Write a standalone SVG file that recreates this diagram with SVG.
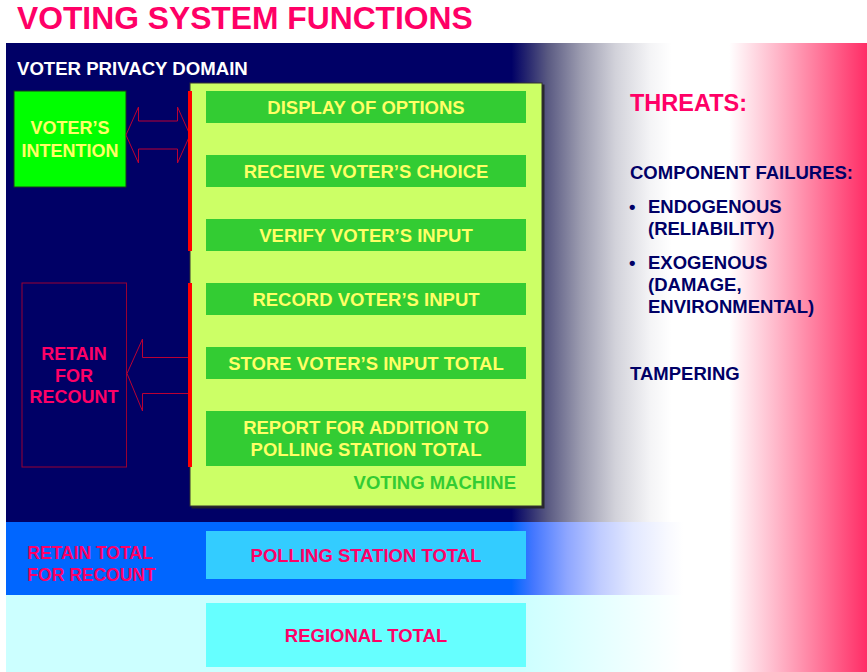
<svg xmlns="http://www.w3.org/2000/svg" width="867" height="672" viewBox="0 0 867 672">
  <defs>
    <!-- right-hand threat zone: white fading into red -->
    <linearGradient id="gradThreat" gradientUnits="userSpaceOnUse" x1="6" y1="0" x2="867" y2="0">
      <stop offset="0.84" stop-color="#ffffff"/>
      <stop offset="0.93" stop-color="#ff8aa8"/>
      <stop offset="1" stop-color="#ff2d66"/>
    </linearGradient>
    <!-- privacy domain band: navy through grey to white -->
    <linearGradient id="gradNavy" gradientUnits="userSpaceOnUse" x1="0" y1="0" x2="867" y2="0">
      <stop offset="0.590" stop-color="#000066" stop-opacity="1"/>
      <stop offset="0.610" stop-color="#2a2a70" stop-opacity="1"/>
      <stop offset="0.632" stop-color="#5a5a82" stop-opacity="1"/>
      <stop offset="0.670" stop-color="#9c9cb0" stop-opacity="1"/>
      <stop offset="0.710" stop-color="#d2d2da" stop-opacity="1"/>
      <stop offset="0.750" stop-color="#f4f4f6" stop-opacity="1"/>
      <stop offset="0.775" stop-color="#ffffff" stop-opacity="1"/>
      <stop offset="0.800" stop-color="#ffffff" stop-opacity="0"/>
    </linearGradient>
    <!-- polling station band: blue fading out -->
    <linearGradient id="gradBlue" gradientUnits="userSpaceOnUse" x1="0" y1="0" x2="867" y2="0">
      <stop offset="0.590" stop-color="#0066ff"/>
      <stop offset="0.615" stop-color="#4477ff"/>
      <stop offset="0.654" stop-color="#8ea6ff"/>
      <stop offset="0.692" stop-color="#c0ccff"/>
      <stop offset="0.730" stop-color="#e2e8ff"/>
      <stop offset="0.770" stop-color="#f8f9ff"/>
      <stop offset="0.788" stop-color="#ffffff"/>
    </linearGradient>
    <!-- regional band: pale cyan fading out -->
    <linearGradient id="gradCyan" gradientUnits="userSpaceOnUse" x1="0" y1="0" x2="867" y2="0">
      <stop offset="0.600" stop-color="#ccffff" stop-opacity="1"/>
      <stop offset="0.788" stop-color="#ccffff" stop-opacity="0"/>
    </linearGradient>
    <filter id="shadow" x="-5%" y="-5%" width="110%" height="110%">
      <feDropShadow dx="2" dy="2" stdDeviation="0.3" flood-color="#222222" flood-opacity="0.9"/>
    </filter>
  </defs>
  <style>
    text { font-family: "Liberation Sans", Arial, sans-serif; font-weight: bold; }
    .row { fill: #33cc33; }
    .rowText { fill: #ffff66; font-size: 18.5px; text-anchor: middle; }
    .pink { fill: #ff0066; }
    .navyText { fill: #000066; font-size: 18.5px; }
    .arrow { fill: none; stroke: #bb0033; stroke-width: 1; }
    .bar { fill: #ff0000; }
  </style>

  <!-- page -->
  <rect x="0" y="0" width="867" height="672" fill="#ffffff"/>

  <!-- background zones -->
  <g id="background">
    <rect x="6" y="43" width="861" height="629" fill="url(#gradThreat)"/>
    <rect x="6" y="43" width="861" height="479" fill="url(#gradNavy)"/>
    <rect x="6" y="522" width="677" height="73" fill="url(#gradBlue)"/>
    <rect x="6" y="595" width="677" height="77" fill="url(#gradCyan)"/>
  </g>

  <text id="title" x="17" y="29" class="pink" style="font-size:31.8px">VOTING SYSTEM FUNCTIONS</text>
  <text id="privacy-domain" x="17" y="75" fill="#ffffff" style="font-size:18.6px">VOTER PRIVACY DOMAIN</text>

  <!-- voter's intention -->
  <g id="voters-intention">
    <rect x="14" y="91" width="112" height="96" fill="#00ff00" stroke="#1a3a1a" stroke-width="1"/>
    <text x="70" y="134" class="rowText" style="font-size:18px">VOTER’S</text>
    <text x="70" y="156.5" class="rowText" style="font-size:18px">INTENTION</text>
  </g>

  <!-- retain for recount -->
  <g id="retain-for-recount">
    <rect x="22" y="283" width="104.5" height="184" fill="none" stroke="#990033" stroke-width="1"/>
    <text x="74" y="360" class="pink" text-anchor="middle" style="font-size:18px">RETAIN</text>
    <text x="74" y="381.5" class="pink" text-anchor="middle" style="font-size:18px">FOR</text>
    <text x="74" y="403" class="pink" text-anchor="middle" style="font-size:18px">RECOUNT</text>
  </g>

  <!-- voting machine -->
  <g id="voting-machine">
    <rect x="190" y="83" width="352" height="423" fill="#ccff66" stroke="#333333" stroke-width="1" filter="url(#shadow)"/>
    <text x="516" y="489" fill="#33cc33" text-anchor="end" style="font-size:18.5px">VOTING MACHINE</text>
  </g>

  <g id="display-of-options">
    <rect class="row" x="206" y="91" width="320" height="32"/>
    <text class="rowText" x="366" y="113.6">DISPLAY OF OPTIONS</text>
  </g>
  <g id="receive-choice">
    <rect class="row" x="206" y="155" width="320" height="32"/>
    <text class="rowText" x="366" y="177.6">RECEIVE VOTER’S CHOICE</text>
  </g>
  <g id="verify-input">
    <rect class="row" x="206" y="219" width="320" height="32"/>
    <text class="rowText" x="366" y="241.6">VERIFY VOTER’S INPUT</text>
  </g>
  <g id="record-input">
    <rect class="row" x="206" y="283" width="320" height="32"/>
    <text class="rowText" x="366" y="305.6">RECORD VOTER’S INPUT</text>
  </g>
  <g id="store-total">
    <rect class="row" x="206" y="347" width="320" height="32"/>
    <text class="rowText" x="366" y="369.6">STORE VOTER’S INPUT TOTAL</text>
  </g>
  <g id="report-total">
    <rect class="row" x="206" y="411" width="320" height="55"/>
    <text class="rowText" x="366" y="434">REPORT FOR ADDITION TO</text>
    <text class="rowText" x="366" y="456">POLLING STATION TOTAL</text>
  </g>

  <!-- polling station level -->
  <g id="retain-total">
    <text x="90" y="559" class="pink" text-anchor="middle" style="font-size:17.5px">RETAIN TOTAL</text>
    <text x="91.5" y="581" class="pink" text-anchor="middle" style="font-size:17.5px">FOR RECOUNT</text>
  </g>
  <g id="polling-station-total">
    <rect x="206" y="531" width="320" height="48" fill="#33ccff"/>
    <text x="366" y="561.5" class="pink" text-anchor="middle" style="font-size:18.5px">POLLING STATION TOTAL</text>
  </g>

  <!-- regional level -->
  <g id="regional-total">
    <rect x="206" y="603" width="320" height="64" fill="#66ffff"/>
    <text x="366" y="641.5" class="pink" text-anchor="middle" style="font-size:18.5px">REGIONAL TOTAL</text>
  </g>

  <!-- threats -->
  <g id="threats">
    <text x="630" y="111" class="pink" style="font-size:23.5px">THREATS:</text>
    <text x="630" y="179" class="navyText">COMPONENT FAILURES:</text>
    <text x="629" y="213" class="navyText">•</text>
    <text x="648" y="213" class="navyText">ENDOGENOUS</text>
    <text x="648" y="235" class="navyText">(RELIABILITY)</text>
    <text x="629" y="269" class="navyText">•</text>
    <text x="648" y="269" class="navyText">EXOGENOUS</text>
    <text x="648" y="291" class="navyText">(DAMAGE,</text>
    <text x="648" y="313" class="navyText">ENVIRONMENTAL)</text>
    <text x="630" y="380" class="navyText">TAMPERING</text>
  </g>

  <!-- connectors -->
  <g id="connectors">
    <polygon class="arrow" points="126,135 138.5,107 138.5,121 177.5,121 177.5,107 190,135 177.5,163 177.5,149 138.5,149 138.5,163"/>
    <path class="arrow" d="M188,357.5 H142.5 V339 L127,373.5 L142.5,411 V393.5 H188"/>
    <rect class="bar" x="188" y="91" width="4" height="160"/>
    <rect class="bar" x="188" y="283" width="4" height="184"/>
  </g>
</svg>
